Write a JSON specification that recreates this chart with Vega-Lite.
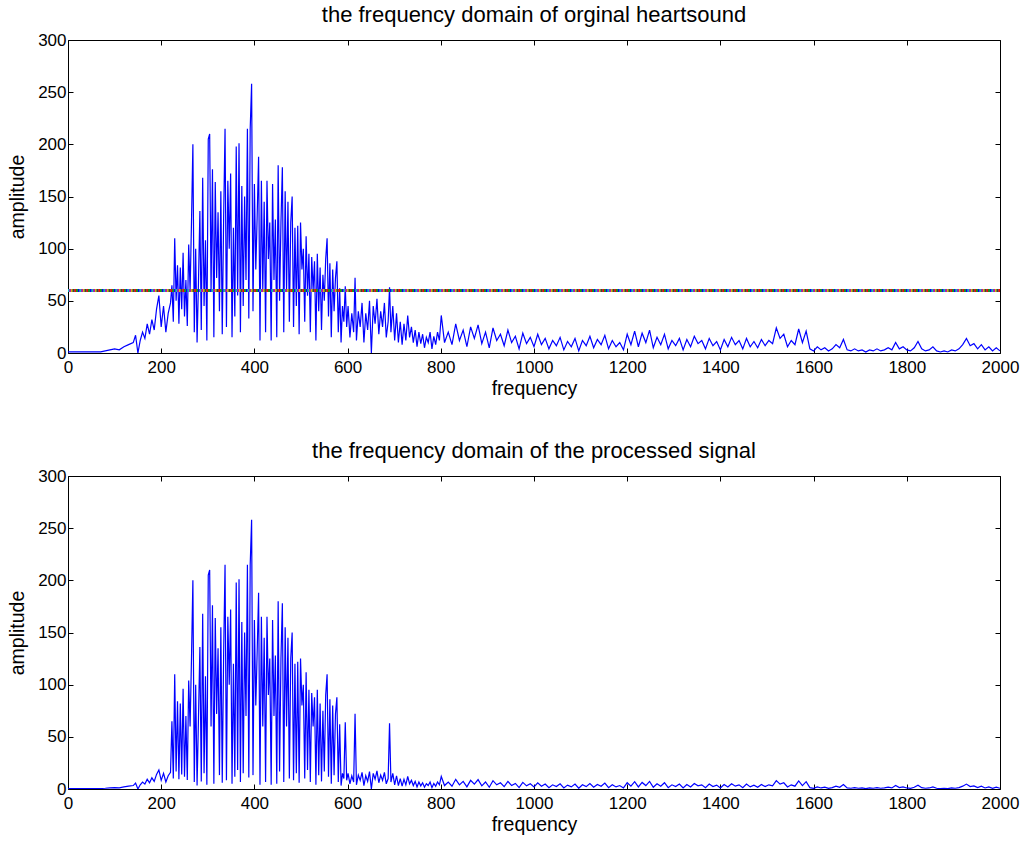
{
"$schema":"https://vega.github.io/schema/vega-lite/v6.json",
"background":"white",
"padding":{"left":7,"top":4,"right":15,"bottom":5},
"spacing":42,
"config":{
"font":"Liberation Sans",
"view":{"stroke":null},
"axis":{"grid":false,"domainColor":"black","domainWidth":1,"tickColor":"black","tickSize":-5,"tickWidth":1,"labelColor":"black","labelFont":"Liberation Sans","labelFontSize":17,"labelFlush":false,"labelOverlap":false,"format":"d","titleColor":"black","titleFont":"Liberation Sans","titleFontSize":19.5,"titleFontWeight":"normal"},
"axisX":{"labelPadding":11,"titlePadding":4},
"axisY":{"labelPadding":7,"titlePadding":10},
"title":{"font":"Liberation Sans","fontSize":22,"fontWeight":"normal","color":"black","offset":0}
},
"datasets":{"spec":[
{"f":0,"a":1,"p":0.5},{"f":10,"a":1,"p":0.5},{"f":20,"a":1,"p":0.5},{"f":30,"a":1,"p":0.5},{"f":40,"a":1,"p":0.5},{"f":50,"a":1,"p":0.5},{"f":60,"a":1,"p":0.5},{"f":70,"a":1,"p":0.5},{"f":80,"a":2,"p":0.7},{"f":90,"a":3,"p":1},{"f":100,"a":4,"p":1.3},{"f":110,"a":3,"p":1},{"f":120,"a":6,"p":2},{"f":130,"a":8,"p":2.7},{"f":140,"a":10,"p":3.3},{"f":145,"a":17,"p":5.7},{"f":150,"a":0,"p":0},
{"f":155,"a":12,"p":4},{"f":160,"a":20,"p":6.7},{"f":165,"a":14,"p":4.7},{"f":170,"a":28,"p":9.3},{"f":175,"a":18,"p":6},{"f":180,"a":32,"p":10.7},{"f":185,"a":22,"p":7.3},{"f":190,"a":42,"p":14},{"f":195,"a":55,"p":18.3},{"f":200,"a":25,"p":8.3},{"f":205,"a":45,"p":15},{"f":210,"a":20,"p":6.7},{"f":215,"a":38,"p":12.7},{"f":220,"a":48,"p":16},
{"f":223,"a":65,"p":65},{"f":226,"a":30,"p":10},{"f":229,"a":110,"p":110},{"f":232,"a":50,"p":16.7},{"f":235,"a":84,"p":84},{"f":238,"a":28,"p":9.3},{"f":241,"a":82,"p":82},{"f":244,"a":42,"p":14},{"f":247,"a":96,"p":96},{"f":250,"a":35,"p":11.7},{"f":253,"a":70,"p":70},{"f":256,"a":26,"p":8.7},{"f":259,"a":104,"p":104},{"f":262,"a":60,"p":60},{"f":265,"a":125,"p":125},{"f":268,"a":200,"p":200},{"f":271,"a":20,"p":6.7},{"f":274,"a":100,"p":100},{"f":277,"a":10,"p":3.3},{"f":280,"a":68,"p":68},{"f":283,"a":136,"p":136},{"f":286,"a":22,"p":7.3},{"f":289,"a":168,"p":168},{"f":292,"a":45,"p":15},{"f":295,"a":108,"p":108},{"f":298,"a":12,"p":4},
{"f":301,"a":205,"p":205},{"f":304,"a":210,"p":210},{"f":307,"a":60,"p":60},{"f":310,"a":176,"p":176},{"f":313,"a":15,"p":5},{"f":316,"a":164,"p":164},{"f":319,"a":72,"p":72},{"f":322,"a":135,"p":135},{"f":325,"a":40,"p":13.3},{"f":328,"a":155,"p":155},{"f":331,"a":18,"p":6},{"f":334,"a":130,"p":130},{"f":337,"a":215,"p":215},{"f":340,"a":25,"p":8.3},{"f":343,"a":165,"p":165},{"f":346,"a":100,"p":100},{"f":349,"a":172,"p":172},{"f":352,"a":15,"p":5},{"f":355,"a":120,"p":120},{"f":358,"a":35,"p":11.7},{"f":361,"a":198,"p":198},{"f":364,"a":55,"p":18.3},{"f":367,"a":201,"p":201},{"f":370,"a":20,"p":6.7},{"f":373,"a":160,"p":160},{"f":376,"a":45,"p":15},{"f":379,"a":150,"p":150},{"f":382,"a":70,"p":70},{"f":385,"a":215,"p":215},{"f":388,"a":33,"p":11},{"f":391,"a":215,"p":215},{"f":394,"a":258,"p":258},{"f":397,"a":40,"p":13.3},
{"f":400,"a":162,"p":162},{"f":403,"a":80,"p":80},{"f":406,"a":132,"p":132},{"f":409,"a":188,"p":188},{"f":412,"a":12,"p":4},{"f":415,"a":165,"p":165},{"f":418,"a":60,"p":60},{"f":421,"a":145,"p":145},{"f":424,"a":20,"p":6.7},{"f":427,"a":165,"p":165},{"f":430,"a":90,"p":90},{"f":433,"a":125,"p":125},{"f":436,"a":12,"p":4},{"f":439,"a":162,"p":162},{"f":442,"a":70,"p":70},{"f":445,"a":128,"p":128},{"f":448,"a":15,"p":5},{"f":451,"a":180,"p":180},{"f":454,"a":50,"p":16.7},{"f":457,"a":125,"p":125},{"f":460,"a":178,"p":178},{"f":463,"a":20,"p":6.7},{"f":466,"a":155,"p":155},{"f":469,"a":60,"p":60},{"f":472,"a":145,"p":145},{"f":475,"a":30,"p":10},{"f":478,"a":125,"p":125},{"f":481,"a":150,"p":150},{"f":484,"a":25,"p":8.3},{"f":487,"a":120,"p":120},{"f":490,"a":45,"p":15},{"f":493,"a":122,"p":122},{"f":496,"a":18,"p":6},{"f":499,"a":125,"p":125},
{"f":502,"a":80,"p":80},{"f":505,"a":100,"p":100},{"f":508,"a":30,"p":10},{"f":511,"a":112,"p":112},{"f":514,"a":55,"p":18.3},{"f":517,"a":95,"p":95},{"f":520,"a":20,"p":6.7},{"f":523,"a":92,"p":92},{"f":526,"a":60,"p":60},{"f":529,"a":88,"p":88},{"f":532,"a":12,"p":4},{"f":535,"a":95,"p":95},{"f":538,"a":40,"p":13.3},{"f":541,"a":82,"p":82},{"f":544,"a":22,"p":7.3},{"f":547,"a":75,"p":75},{"f":550,"a":50,"p":16.7},{"f":553,"a":90,"p":90},{"f":556,"a":110,"p":110},{"f":559,"a":35,"p":11.7},{"f":562,"a":86,"p":86},{"f":565,"a":15,"p":5},{"f":568,"a":80,"p":80},{"f":571,"a":40,"p":13.3},{"f":574,"a":72,"p":72},{"f":577,"a":88,"p":88},{"f":580,"a":20,"p":6.7},{"f":583,"a":62,"p":62},{"f":586,"a":10,"p":3.3},{"f":589,"a":45,"p":15},{"f":592,"a":30,"p":10},{"f":595,"a":64,"p":64},{"f":598,"a":25,"p":8.3},
{"f":601,"a":45,"p":15},{"f":605,"a":15,"p":5},{"f":609,"a":38,"p":12.7},{"f":613,"a":20,"p":6.7},{"f":616,"a":72,"p":72},{"f":619,"a":12,"p":4},{"f":623,"a":40,"p":13.3},{"f":627,"a":25,"p":8.3},{"f":631,"a":48,"p":16},{"f":635,"a":10,"p":3.3},{"f":639,"a":38,"p":12.7},{"f":643,"a":22,"p":7.3},{"f":647,"a":50,"p":16.7},{"f":651,"a":0,"p":0},{"f":655,"a":45,"p":15},{"f":659,"a":28,"p":9.3},{"f":663,"a":52,"p":17.3},{"f":667,"a":18,"p":6},{"f":671,"a":40,"p":13.3},{"f":675,"a":25,"p":8.3},{"f":679,"a":48,"p":16},{"f":683,"a":15,"p":5},{"f":687,"a":30,"p":10},{"f":690,"a":63,"p":63},{"f":693,"a":20,"p":6.7},{"f":697,"a":45,"p":15},
{"f":701,"a":12,"p":4},{"f":705,"a":38,"p":12.7},{"f":709,"a":10,"p":3.3},{"f":713,"a":30,"p":10},{"f":717,"a":8,"p":2.7},{"f":721,"a":28,"p":9.3},{"f":725,"a":12,"p":4},{"f":729,"a":36,"p":12},{"f":733,"a":15,"p":5},{"f":737,"a":25,"p":8.3},{"f":741,"a":10,"p":3.3},{"f":745,"a":22,"p":7.3},{"f":749,"a":6,"p":2},{"f":753,"a":20,"p":6.7},{"f":757,"a":9,"p":3},{"f":761,"a":18,"p":6},{"f":765,"a":5,"p":1.7},{"f":769,"a":15,"p":5},{"f":773,"a":10,"p":3.3},{"f":777,"a":20,"p":6.7},{"f":781,"a":4,"p":1.3},{"f":785,"a":16,"p":5.3},{"f":789,"a":8,"p":2.7},{"f":793,"a":20,"p":6.7},{"f":797,"a":12,"p":4},{"f":801,"a":36,"p":12},
{"f":808,"a":10,"p":3.3},{"f":816,"a":20,"p":6.7},{"f":824,"a":8,"p":2.7},{"f":832,"a":28,"p":9.3},{"f":840,"a":12,"p":4},{"f":848,"a":22,"p":7.3},{"f":856,"a":6,"p":2},{"f":864,"a":25,"p":8.3},{"f":872,"a":14,"p":4.7},{"f":880,"a":27,"p":9},{"f":888,"a":9,"p":3},{"f":896,"a":20,"p":6.7},{"f":904,"a":5,"p":1.7},{"f":912,"a":24,"p":8},{"f":920,"a":12,"p":4},{"f":928,"a":18,"p":6},{"f":936,"a":7,"p":2.3},{"f":944,"a":22,"p":7.3},{"f":952,"a":10,"p":3.3},{"f":960,"a":16,"p":5.3},{"f":968,"a":4,"p":1.3},{"f":976,"a":19,"p":6.3},{"f":984,"a":9,"p":3},{"f":992,"a":15,"p":5},
{"f":1000,"a":6,"p":2},{"f":1008,"a":18,"p":6},{"f":1016,"a":8,"p":2.7},{"f":1024,"a":14,"p":4.7},{"f":1032,"a":4,"p":1.3},{"f":1040,"a":12,"p":4},{"f":1048,"a":7,"p":2.3},{"f":1056,"a":15,"p":5},{"f":1064,"a":3,"p":1},{"f":1072,"a":11,"p":3.7},{"f":1080,"a":6,"p":2},{"f":1088,"a":14,"p":4.7},{"f":1096,"a":2,"p":0.7},{"f":1104,"a":12,"p":4},{"f":1112,"a":7,"p":2.3},{"f":1120,"a":16,"p":5.3},{"f":1128,"a":5,"p":1.7},{"f":1136,"a":13,"p":4.3},{"f":1144,"a":8,"p":2.7},{"f":1152,"a":17,"p":5.7},{"f":1160,"a":4,"p":1.3},{"f":1168,"a":12,"p":4},{"f":1176,"a":6,"p":2},{"f":1184,"a":10,"p":3.3},{"f":1192,"a":3,"p":1},
{"f":1200,"a":18,"p":6},{"f":1208,"a":8,"p":2.7},{"f":1216,"a":21,"p":7},{"f":1224,"a":6,"p":2},{"f":1232,"a":19,"p":6.3},{"f":1240,"a":10,"p":3.3},{"f":1248,"a":22,"p":7.3},{"f":1256,"a":5,"p":1.7},{"f":1264,"a":15,"p":5},{"f":1272,"a":8,"p":2.7},{"f":1280,"a":18,"p":6},{"f":1288,"a":4,"p":1.3},{"f":1296,"a":12,"p":4},{"f":1304,"a":7,"p":2.3},{"f":1312,"a":14,"p":4.7},{"f":1320,"a":3,"p":1},{"f":1328,"a":13,"p":4.3},{"f":1336,"a":6,"p":2},{"f":1344,"a":16,"p":5.3},{"f":1352,"a":9,"p":3},{"f":1360,"a":12,"p":4},{"f":1368,"a":4,"p":1.3},{"f":1376,"a":14,"p":4.7},{"f":1384,"a":7,"p":2.3},{"f":1392,"a":11,"p":3.7},
{"f":1400,"a":3,"p":1},{"f":1408,"a":13,"p":4.3},{"f":1416,"a":6,"p":2},{"f":1424,"a":15,"p":5},{"f":1432,"a":8,"p":2.7},{"f":1440,"a":12,"p":4},{"f":1448,"a":4,"p":1.3},{"f":1456,"a":14,"p":4.7},{"f":1464,"a":6,"p":2},{"f":1472,"a":11,"p":3.7},{"f":1480,"a":5,"p":1.7},{"f":1488,"a":13,"p":4.3},{"f":1496,"a":7,"p":2.3},{"f":1504,"a":12,"p":4},{"f":1512,"a":9,"p":3},{"f":1520,"a":24,"p":8},{"f":1528,"a":14,"p":4.7},{"f":1536,"a":18,"p":6},{"f":1544,"a":6,"p":2},{"f":1552,"a":12,"p":4},{"f":1560,"a":8,"p":2.7},{"f":1568,"a":23,"p":7.7},{"f":1576,"a":10,"p":3.3},{"f":1584,"a":21,"p":7},{"f":1592,"a":4,"p":1.3},
{"f":1600,"a":2,"p":0.7},{"f":1608,"a":6,"p":2},{"f":1616,"a":3,"p":1},{"f":1624,"a":5,"p":1.7},{"f":1632,"a":2,"p":0.7},{"f":1640,"a":4,"p":1.3},{"f":1648,"a":8,"p":2.7},{"f":1656,"a":5,"p":1.7},{"f":1664,"a":13,"p":4.3},{"f":1672,"a":3,"p":1},{"f":1680,"a":2,"p":0.7},{"f":1688,"a":4,"p":1.3},{"f":1696,"a":2,"p":0.7},{"f":1704,"a":3,"p":1},{"f":1712,"a":1,"p":0.3},{"f":1720,"a":3,"p":1},{"f":1728,"a":2,"p":0.7},{"f":1736,"a":4,"p":1.3},{"f":1744,"a":2,"p":0.7},{"f":1752,"a":3,"p":1},{"f":1760,"a":5,"p":1.7},{"f":1768,"a":3,"p":1},{"f":1776,"a":10,"p":3.3},{"f":1784,"a":4,"p":1.3},{"f":1792,"a":6,"p":2},
{"f":1800,"a":3,"p":1},{"f":1808,"a":2,"p":0.7},{"f":1816,"a":5,"p":1.7},{"f":1824,"a":11,"p":3.7},{"f":1832,"a":4,"p":1.3},{"f":1840,"a":2,"p":0.7},{"f":1848,"a":3,"p":1},{"f":1856,"a":6,"p":2},{"f":1864,"a":2,"p":0.7},{"f":1872,"a":1,"p":0.3},{"f":1880,"a":2,"p":0.7},{"f":1888,"a":1,"p":0.3},{"f":1896,"a":3,"p":1},{"f":1904,"a":2,"p":0.7},{"f":1912,"a":4,"p":1.3},{"f":1920,"a":8,"p":2.7},{"f":1928,"a":14,"p":4.7},{"f":1936,"a":7,"p":2.3},{"f":1944,"a":9,"p":3},{"f":1952,"a":4,"p":1.3},{"f":1960,"a":8,"p":2.7},{"f":1968,"a":3,"p":1},{"f":1976,"a":6,"p":2},{"f":1984,"a":2,"p":0.7},{"f":1992,"a":5,"p":1.7},{"f":2000,"a":2,"p":0.7}
],
"thr":[{"t":60}]},
"vconcat":[
{
"width":932,"height":313,
"title":"the frequency domain of orginal heartsound",
"data":{"name":"spec"},
"resolve":{"axis":{"x":"independent","y":"independent"}},
"layer":[
{"mark":{"type":"line","color":"#0000ff","strokeWidth":1.2,"clip":true},
"encoding":{
"x":{"field":"f","type":"quantitative","scale":{"domain":[0,2000],"nice":false},"axis":{"orient":"bottom","title":"frequency","values":[0,200,400,600,800,1000,1200,1400,1600,1800,2000]}},
"y":{"field":"a","type":"quantitative","scale":{"domain":[0,300],"nice":false},"axis":{"orient":"left","title":"amplitude","values":[0,50,100,150,200,250,300]}}}},
{"mark":{"type":"line","strokeOpacity":0},
"encoding":{
"x":{"field":"f","type":"quantitative","scale":{"domain":[0,2000],"nice":false},"axis":{"orient":"top","labels":false,"title":null,"values":[0,200,400,600,800,1000,1200,1400,1600,1800,2000]}},
"y":{"field":"a","type":"quantitative","scale":{"domain":[0,300],"nice":false},"axis":{"orient":"right","labels":false,"title":null,"values":[0,50,100,150,200,250,300]}}}},
{"data":{"name":"thr"},"mark":{"type":"rule","color":"#7a7a5a","strokeWidth":3},"encoding":{"y":{"field":"t","type":"quantitative","scale":{"domain":[0,300],"nice":false},"axis":null}}},
{"data":{"name":"thr"},"mark":{"type":"rule","color":"#ff0000","strokeWidth":3,"strokeDash":[1.5,10.5],"strokeDashOffset":0},"encoding":{"y":{"field":"t","type":"quantitative","scale":{"domain":[0,300],"nice":false},"axis":null}}},
{"data":{"name":"thr"},"mark":{"type":"rule","color":"#00a000","strokeWidth":3,"strokeDash":[1.5,10.5],"strokeDashOffset":1.7},"encoding":{"y":{"field":"t","type":"quantitative","scale":{"domain":[0,300],"nice":false},"axis":null}}},
{"data":{"name":"thr"},"mark":{"type":"rule","color":"#0000ff","strokeWidth":3,"strokeDash":[1.5,10.5],"strokeDashOffset":3.4},"encoding":{"y":{"field":"t","type":"quantitative","scale":{"domain":[0,300],"nice":false},"axis":null}}},
{"data":{"name":"thr"},"mark":{"type":"rule","color":"#00c0c0","strokeWidth":3,"strokeDash":[1.5,10.5],"strokeDashOffset":5.1},"encoding":{"y":{"field":"t","type":"quantitative","scale":{"domain":[0,300],"nice":false},"axis":null}}},
{"data":{"name":"thr"},"mark":{"type":"rule","color":"#c000c0","strokeWidth":3,"strokeDash":[1.5,10.5],"strokeDashOffset":6.8},"encoding":{"y":{"field":"t","type":"quantitative","scale":{"domain":[0,300],"nice":false},"axis":null}}},
{"data":{"name":"thr"},"mark":{"type":"rule","color":"#d0c000","strokeWidth":3,"strokeDash":[1.5,10.5],"strokeDashOffset":8.5},"encoding":{"y":{"field":"t","type":"quantitative","scale":{"domain":[0,300],"nice":false},"axis":null}}},
{"data":{"name":"thr"},"mark":{"type":"rule","color":"#404040","strokeWidth":3,"strokeDash":[1.5,10.5],"strokeDashOffset":10.2},"encoding":{"y":{"field":"t","type":"quantitative","scale":{"domain":[0,300],"nice":false},"axis":null}}}
]
},
{
"width":932,"height":313,
"title":"the frequency domain of the processed signal",
"data":{"name":"spec"},
"resolve":{"axis":{"x":"independent","y":"independent"}},
"layer":[
{"mark":{"type":"line","color":"#0000ff","strokeWidth":1.2,"clip":true},
"encoding":{
"x":{"field":"f","type":"quantitative","scale":{"domain":[0,2000],"nice":false},"axis":{"orient":"bottom","title":"frequency","values":[0,200,400,600,800,1000,1200,1400,1600,1800,2000]}},
"y":{"field":"p","type":"quantitative","scale":{"domain":[0,300],"nice":false},"axis":{"orient":"left","title":"amplitude","values":[0,50,100,150,200,250,300]}}}},
{"mark":{"type":"line","strokeOpacity":0},
"encoding":{
"x":{"field":"f","type":"quantitative","scale":{"domain":[0,2000],"nice":false},"axis":{"orient":"top","labels":false,"title":null,"values":[0,200,400,600,800,1000,1200,1400,1600,1800,2000]}},
"y":{"field":"p","type":"quantitative","scale":{"domain":[0,300],"nice":false},"axis":{"orient":"right","labels":false,"title":null,"values":[0,50,100,150,200,250,300]}}}}
]
}
]
}
